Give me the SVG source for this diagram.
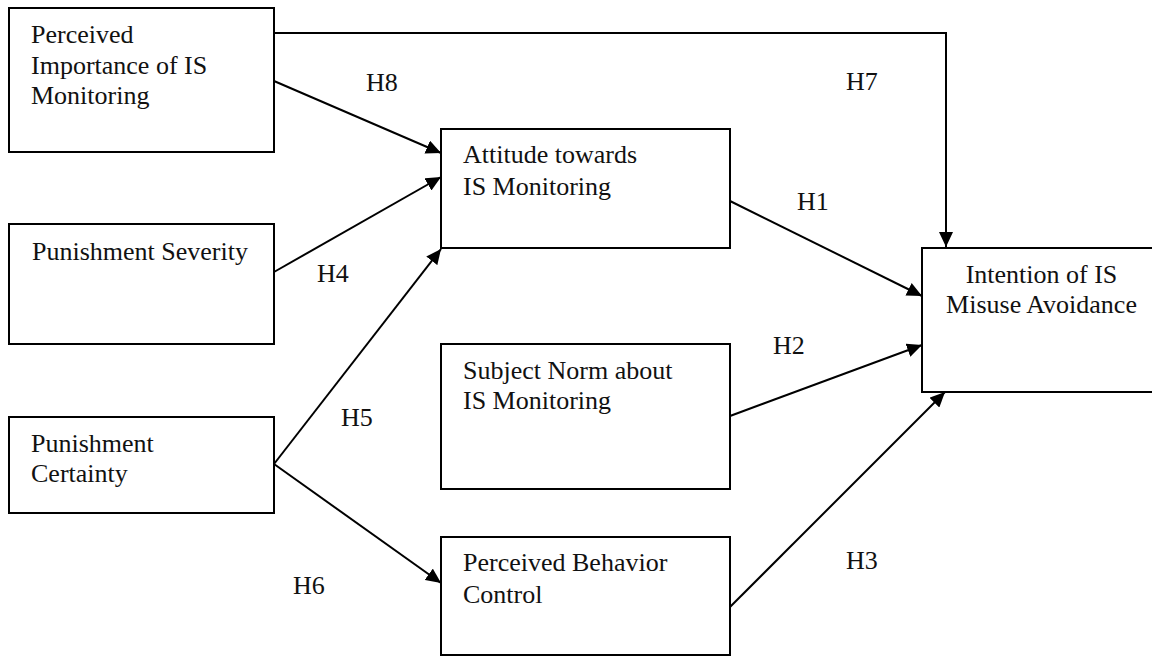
<svg xmlns="http://www.w3.org/2000/svg" width="1152" height="656" viewBox="0 0 1152 656">
<style>
.box{fill:#fff;stroke:#000;stroke-width:2}
.t{font-family:"Liberation Serif","Times New Roman",serif;font-size:26px;fill:#111}
.c{stroke:#000;stroke-width:2;fill:none}
</style>
<defs>
<marker id="ah" markerUnits="userSpaceOnUse" markerWidth="16" markerHeight="14" refX="15" refY="7" orient="auto">
<path d="M0,0 L15,7 L0,14 Z" fill="#000"/>
</marker>
</defs>
<rect width="1152" height="656" fill="#fff"/>
<g id="connectors">
<polyline class="c" points="274,33 946,33 946,247" marker-end="url(#ah)"/>
<line class="c" x1="274" y1="81" x2="441" y2="153" marker-end="url(#ah)"/>
<line class="c" x1="274" y1="272" x2="441" y2="177" marker-end="url(#ah)"/>
<line class="c" x1="274" y1="464" x2="441" y2="249" marker-end="url(#ah)"/>
<line class="c" x1="274" y1="464" x2="441" y2="583" marker-end="url(#ah)"/>
<line class="c" x1="730" y1="201" x2="922" y2="296" marker-end="url(#ah)"/>
<line class="c" x1="730" y1="416" x2="922" y2="345" marker-end="url(#ah)"/>
<line class="c" x1="730" y1="607" x2="945" y2="392" marker-end="url(#ah)"/>
</g>
<g id="labels">
<text class="t" x="366" y="91">H8</text>
<text class="t" x="846" y="90">H7</text>
<text class="t" x="797" y="210">H1</text>
<text class="t" x="317" y="282">H4</text>
<text class="t" x="773" y="354">H2</text>
<text class="t" x="341" y="426">H5</text>
<text class="t" x="846" y="569">H3</text>
<text class="t" x="293" y="594">H6</text>
</g>
<g id="importance">
<rect class="box" x="9" y="8" width="265" height="144"/>
<text class="t" x="31" y="43">Perceived</text>
<text class="t" x="31" y="74">Importance of IS</text>
<text class="t" x="31" y="104">Monitoring</text>
</g>
<g id="severity">
<rect class="box" x="9" y="224" width="265" height="120"/>
<text class="t" x="32" y="260">Punishment Severity</text>
</g>
<g id="certainty">
<rect class="box" x="9" y="417" width="265" height="96"/>
<text class="t" x="31" y="452">Punishment</text>
<text class="t" x="31" y="482">Certainty</text>
</g>
<g id="attitude">
<rect class="box" x="441" y="129" width="289" height="119"/>
<text class="t" x="463" y="163">Attitude towards</text>
<text class="t" x="463" y="195">IS Monitoring</text>
</g>
<g id="norm">
<rect class="box" x="441" y="344" width="289" height="145"/>
<text class="t" x="463" y="379">Subject Norm about</text>
<text class="t" x="463" y="409">IS Monitoring</text>
</g>
<g id="control">
<rect class="box" x="441" y="537" width="289" height="118"/>
<text class="t" x="463" y="571">Perceived Behavior</text>
<text class="t" x="463" y="603">Control</text>
</g>
<g id="intention">
<rect class="box" x="922" y="248" width="239" height="144"/>
<text class="t" x="1041.5" y="283" text-anchor="middle">Intention of IS</text>
<text class="t" x="1041.5" y="313" text-anchor="middle">Misuse Avoidance</text>
</g>
</svg>
